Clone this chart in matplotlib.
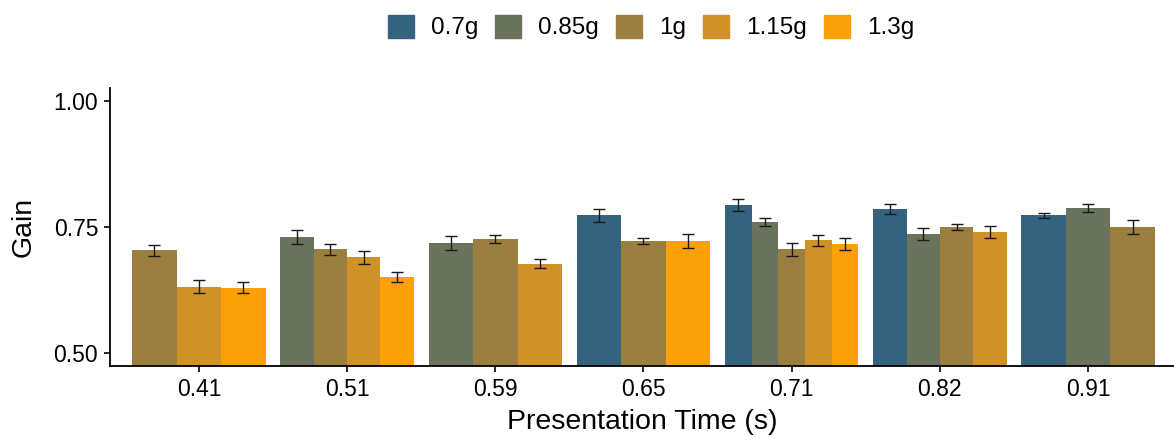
import numpy as np
import matplotlib.pyplot as plt
from matplotlib.patches import Patch

plt.rcParams['font.family'] = ['Liberation Sans', 'DejaVu Sans']

times = ['0.41', '0.51', '0.59', '0.65', '0.71', '0.82', '0.91']
masses = ['0.7g', '0.85g', '1g', '1.15g', '1.3g']
colors = ['#35637F', '#6A735C', '#9B7F40', '#CF9128', '#FCA00A']

nan = np.nan
gain_07 = [nan, nan, nan, 0.773, 0.793, 0.786, 0.773]
gain_085 = [nan, 0.730, 0.718, nan, 0.759, 0.737, 0.788]
gain_1 = [0.704, 0.706, 0.727, 0.723, 0.706, 0.750, 0.750]
gain_115 = [0.632, 0.690, 0.677, nan, 0.724, 0.740, nan]
gain_13 = [0.630, 0.651, nan, 0.723, 0.716, nan, nan]

err_07 = [nan, nan, nan, 0.013, 0.012, 0.010, 0.005]
err_085 = [nan, 0.014, 0.014, nan, 0.008, 0.012, 0.008]
err_1 = [0.011, 0.011, 0.008, 0.006, 0.013, 0.006, 0.014]
err_115 = [0.013, 0.013, 0.009, nan, 0.011, 0.012, nan]
err_13 = [0.011, 0.009, nan, 0.014, 0.012, nan, nan]

gains = np.array([gain_07, gain_085, gain_1, gain_115, gain_13])
errs = np.array([err_07, err_085, err_1, err_115, err_13])

fig = plt.figure(figsize=(11.74, 4.47), dpi=100)
ax = fig.add_axes([110 / 1174, 81 / 447, 1064 / 1174, 278 / 447])

# each group splits its width between the masses that were tested
group_w = 0.9
for i in range(len(times)):
    present = [k for k in range(len(masses)) if not np.isnan(gains[k, i])]
    n = len(present)
    w = group_w / n
    for j, k in enumerate(present):
        x = i + 1 - group_w / 2 + w * (j + 0.5)
        ax.bar(x, gains[k, i], width=w, color=colors[k], bottom=0)
        ax.errorbar(x, gains[k, i], yerr=errs[k, i], color='#1a1a1a',
                    capsize=4, elinewidth=1, capthick=1, zorder=3)

ax.set_xlim(0.4, 7.58)
ax.set_ylim(0.475, 1.025)
ax.set_xticks(range(1, len(times) + 1))
ax.set_xticklabels(times)
ax.set_yticks([0.5, 0.75, 1.0])
ax.set_yticklabels(['0.50', '0.75', '1.00'])
ax.tick_params(labelsize=16.5, length=4.5, width=1.2, colors='black', pad=4)
for side in ['top', 'right']:
    ax.spines[side].set_visible(False)
for side in ['left', 'bottom']:
    ax.spines[side].set_linewidth(1.3)

ax.set_xlabel('Presentation Time (s)', fontsize=20.5, labelpad=6)
ax.set_ylabel('Gain', fontsize=20.5, labelpad=12)

handles = [Patch(color=c) for c in colors]
fig.legend(handles, masses, loc='center', bbox_to_anchor=(651 / 1174, 1 - 27 / 447),
           ncol=5, frameon=False, fontsize=17.5, handlelength=1.07, handleheight=1.07,
           handletextpad=0.7, columnspacing=0.7, borderaxespad=0)

fig.savefig('out.png', dpi=100)
